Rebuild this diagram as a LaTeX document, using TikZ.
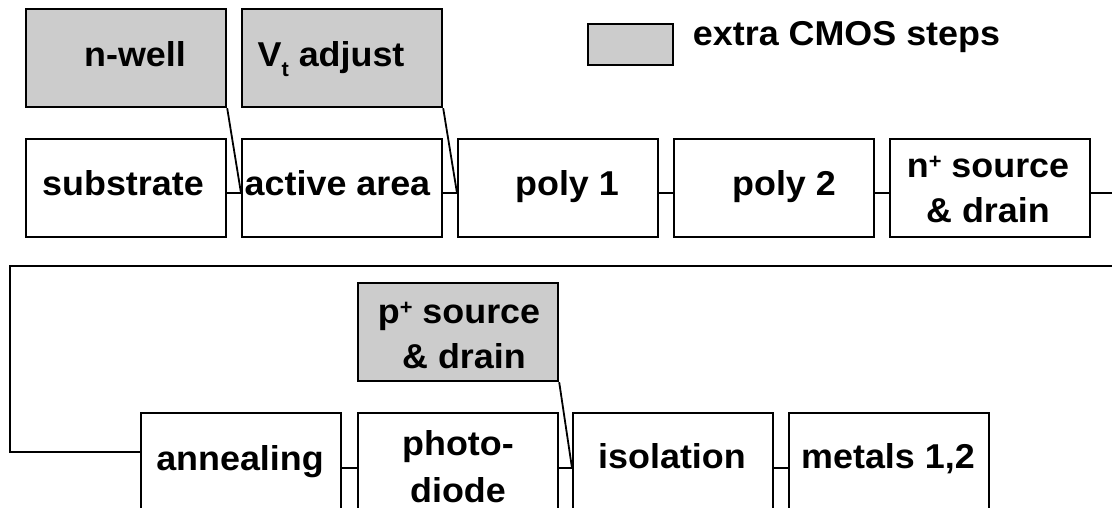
\documentclass[tikz,border=0pt]{standalone}
\usepackage{fontspec}
\setmainfont{Liberation Sans}[FakeStretch=1.04]
\usetikzlibrary{calc}
\definecolor{stepgray}{HTML}{CCCCCC}

\newcommand{\plussup}{\raisebox{9pt}{\fontsize{21}{21}\selectfont +}}

\begin{document}
\begin{tikzpicture}[x=1pt,y=-1pt,
  stepbox/.style={draw=black, line width=2.2pt, fill=white, minimum width=200pt,
                  minimum height=98pt, inner sep=0pt, anchor=north west},
  extrabox/.style={stepbox, fill=stepgray},
  lbl/.style={font=\fontsize{34.5}{44}\selectfont\bfseries, inner sep=0pt,
              anchor=base, align=center},
  link/.style={line width=1.8pt}]

\useasboundingbox (0,0) rectangle (1112,507);
\clip (0,0) rectangle (1112,507);

% levels of the horizontal process-flow lines
\coordinate (r1) at (0,193);
\coordinate (r2) at (0,468);

% first row of steps
\node[extrabox] (nwell) at (25,8) {};
\node[extrabox] (vt)    at (241,8) {};
\node[stepbox]  (sub)   at (25,138) {};
\node[stepbox]  (act)   at (241,138) {};
\node[stepbox]  (p1)    at (457,138) {};
\node[stepbox]  (p2)    at (673,138) {};
\node[stepbox]  (nsd)   at (889,138) {};

% legend
\node[extrabox, minimum width=85pt, minimum height=41pt] (key) at (587,23) {};
\node[lbl] (t-key) at (846.5,45) {extra CMOS steps};

% second row of steps
\node[extrabox] (psd) at (357,282) {};
\node[stepbox]  (ann) at (140,412) {};
\node[stepbox]  (pd)  at (357,412) {};
\node[stepbox]  (iso) at (572,412) {};
\node[stepbox]  (met) at (788,412) {};

% step labels (two-line labels are placed by their last baseline)
\node[lbl] (t-nwell) at (135,66.7) {n-well};
\node[lbl] (t-vt)    at (331,66.7) {V\raisebox{-10pt}{\fontsize{21}{21}\selectfont t} adjust};
\node[lbl] (t-sub)   at (123,195) {substrate};
\node[lbl] (t-act)   at (337.5,195) {active area};
\node[lbl] (t-p1)    at (567,195) {poly 1};
\node[lbl] (t-p2)    at (784,195) {poly 2};
\node[lbl] (t-nsd)   at (988,222) {n\plussup{} source\\[1pt]\& drain};
\node[lbl] (t-psd)   at (459,368) {p\plussup{} source\\[1pt]\hspace{10pt}\& drain};
\node[lbl] (t-ann)   at (240,470) {annealing};
\node[lbl] (t-pd)    at (458,502) {photo-\\[3pt]diode};
\node[lbl] (t-iso)   at (672,468) {isolation};
\node[lbl] (t-met)   at (888,468) {metals 1,2};

% flow through the first row
\draw[link] (sub.east |- r1) -- (act.west |- r1);
\draw[link] (nwell.south east) -- (act.west |- r1);
\draw[link] (act.east |- r1) -- (p1.west |- r1);
\draw[link] (vt.south east) -- (p1.west |- r1);
\draw[link] (p1.east |- r1) -- (p2.west |- r1);
\draw[link] (p2.east |- r1) -- (nsd.west |- r1);

% wrap-around to the second row
\coordinate (outR1) at (1112,193);
\coordinate (outR2) at (1112,266);
\coordinate (turnA) at (10,266);
\coordinate (turnB) at (10,452);
\draw[link] (nsd.east |- r1) -- (outR1);
\draw[link, line width=2pt] (outR2) -- (turnA) -- (turnB) -- (ann.west |- turnB);

% flow through the second row
\draw[link] (ann.east |- r2) -- (pd.west |- r2);
\draw[link] (pd.east |- r2) -- (iso.west |- r2);
\draw[link] (psd.south east) -- (iso.west |- r2);
\draw[link] (iso.east |- r2) -- (met.west |- r2);

\end{tikzpicture}
\end{document}
